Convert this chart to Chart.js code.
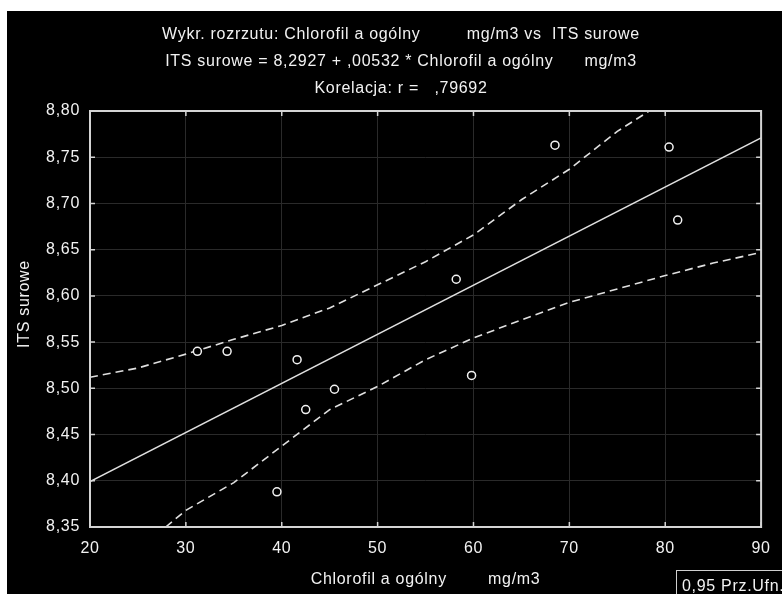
<!DOCTYPE html>
<html>
<head>
<meta charset="utf-8">
<script src="https://cdn.jsdelivr.net/npm/chart.js@4.4.0/dist/chart.umd.min.js"></script>
<style>
  html, body { margin: 0; padding: 0; background: #fff; }
  #wrap { position: absolute; left: 7px; top: 11px; width: 775px; height: 583px; background: #000; }
</style>
</head>
<body>
<div id="wrap"><canvas id="scatter" width="775" height="583"></canvas></div>
<script>
// --- data ---
const pointX = [31.2, 34.3, 41.6, 42.5, 45.5, 39.5, 58.2, 59.8, 68.5, 80.4, 81.3];
const pointY = [8.540, 8.540, 8.531, 8.477, 8.499, 8.388, 8.618, 8.514, 8.763, 8.761, 8.682];

const fitX = [20, 90];
const fitY = [8.399, 8.771];

const upperX = [20, 25, 30, 35, 40, 45, 50, 55, 60, 65, 70, 75, 80];
const upperY = [8.512, 8.522, 8.537, 8.553, 8.568, 8.587, 8.612, 8.637, 8.666, 8.704, 8.737, 8.778, 8.811];

const lowerX = [27.9, 30, 35, 40, 45, 50, 55, 60, 65, 70, 75, 80, 85, 90];
const lowerY = [8.35, 8.368, 8.398, 8.4375, 8.477, 8.502, 8.531, 8.5545, 8.574, 8.593, 8.6075, 8.622, 8.6355, 8.647];

const titleLines = [
    'Wykr. rozrzutu: Chlorofil a ogólny         mg/m3 vs  ITS surowe',
    'ITS surowe = 8,2927 + ,00532 * Chlorofil a ogólny      mg/m3',
    'Korelacja: r =   ,79692'
];
const xTitle = 'Chlorofil a ogólny        mg/m3';
const yTitle = 'ITS surowe';
const legendText = '0,95 Prz.Ufn.';

const FONT = '"Liberation Sans", Arial, sans-serif';
const INK = '#f2f2f2';
const LINE = '#e0e0e0';

function toPoints(xs, ys) {
    return xs.map((x, i) => ({ x: x, y: ys[i] }));
}

// titles, frame, inner tick marks, y title and the little legend box
const decorPlugin = {
    id: 'decor',
    beforeDraw(chart) {
        chart.ctx.letterSpacing = '0.7px';
    },
    afterDraw(chart) {
        const ctx = chart.ctx;
        const area = chart.chartArea;
        const xs = chart.scales.x;
        const ys = chart.scales.y;

        ctx.save();
        ctx.strokeStyle = '#d4d4d4';
        ctx.lineWidth = 2;
        ctx.strokeRect(area.left, area.top, area.right - area.left, area.bottom - area.top);

        ctx.lineWidth = 1.5;
        xs.ticks.forEach(t => {
            const px = xs.getPixelForValue(t.value);
            ctx.beginPath();
            ctx.moveTo(px, area.bottom); ctx.lineTo(px, area.bottom - 5);
            ctx.moveTo(px, area.top); ctx.lineTo(px, area.top + 5);
            ctx.stroke();
        });
        ys.ticks.forEach(t => {
            const py = ys.getPixelForValue(t.value);
            ctx.beginPath();
            ctx.moveTo(area.left, py); ctx.lineTo(area.left + 5, py);
            ctx.moveTo(area.right, py); ctx.lineTo(area.right - 5, py);
            ctx.stroke();
        });

        ctx.fillStyle = INK;
        ctx.font = '16px ' + FONT;
        ctx.letterSpacing = '0.7px';
        ctx.textAlign = 'center';
        ctx.textBaseline = 'middle';
        const lineY = [24, 51, 78];
        titleLines.forEach((txt, i) => ctx.fillText(txt, 394, lineY[i]));

        ctx.save();
        ctx.translate(18, 293);
        ctx.rotate(-Math.PI / 2);
        ctx.fillText(yTitle, 0, 0);
        ctx.restore();

        ctx.strokeStyle = '#cfcfcf';
        ctx.lineWidth = 1;
        ctx.strokeRect(669.5, 559.5, 120, 40);
        ctx.textAlign = 'left';
        ctx.fillText(legendText, 675, 576);
        ctx.restore();
    }
};

const chart = new Chart(document.getElementById('scatter').getContext('2d'), {
    type: 'scatter',
    data: {
        datasets: [
            {
                data: toPoints(pointX, pointY),
                pointRadius: 4,
                pointBorderWidth: 1.5,
                pointBorderColor: INK,
                pointBackgroundColor: '#000',
                showLine: false
            },
            {
                data: toPoints(fitX, fitY),
                showLine: true,
                pointRadius: 0,
                borderColor: LINE,
                borderWidth: 1.5
            },
            {
                data: toPoints(upperX, upperY),
                showLine: true,
                pointRadius: 0,
                borderColor: LINE,
                borderWidth: 1.6,
                borderDash: [8, 5]
            },
            {
                data: toPoints(lowerX, lowerY),
                showLine: true,
                pointRadius: 0,
                borderColor: LINE,
                borderWidth: 1.6,
                borderDash: [8, 5]
            }
        ]
    },
    options: {
        responsive: false,
        animation: false,
        layout: { padding: { top: 100, right: 11, left: 0, bottom: 0 } },
        plugins: { legend: { display: false }, tooltip: { enabled: false } },
        scales: {
            x: {
                type: 'linear',
                min: 20,
                max: 90,
                afterFit: s => { s.height = 67; },
                ticks: { stepSize: 10, color: INK, padding: 12, font: { family: FONT, size: 16 } },
                grid: { color: '#2a2a2a', drawTicks: false },
                border: { display: false },
                title: { display: true, text: xTitle, color: INK, padding: { top: 0, bottom: 5 }, font: { family: FONT, size: 16 } }
            },
            y: {
                type: 'linear',
                min: 8.35,
                max: 8.80,
                afterFit: s => { s.width = 83; },
                ticks: {
                    stepSize: 0.05,
                    color: INK,
                    padding: 10,
                    font: { family: FONT, size: 16 },
                    callback: v => v.toFixed(2).replace('.', ',')
                },
                grid: { color: '#2a2a2a', drawTicks: false },
                border: { display: false }
            }
        }
    },
    plugins: [decorPlugin]
});
</script>
</body>
</html>
